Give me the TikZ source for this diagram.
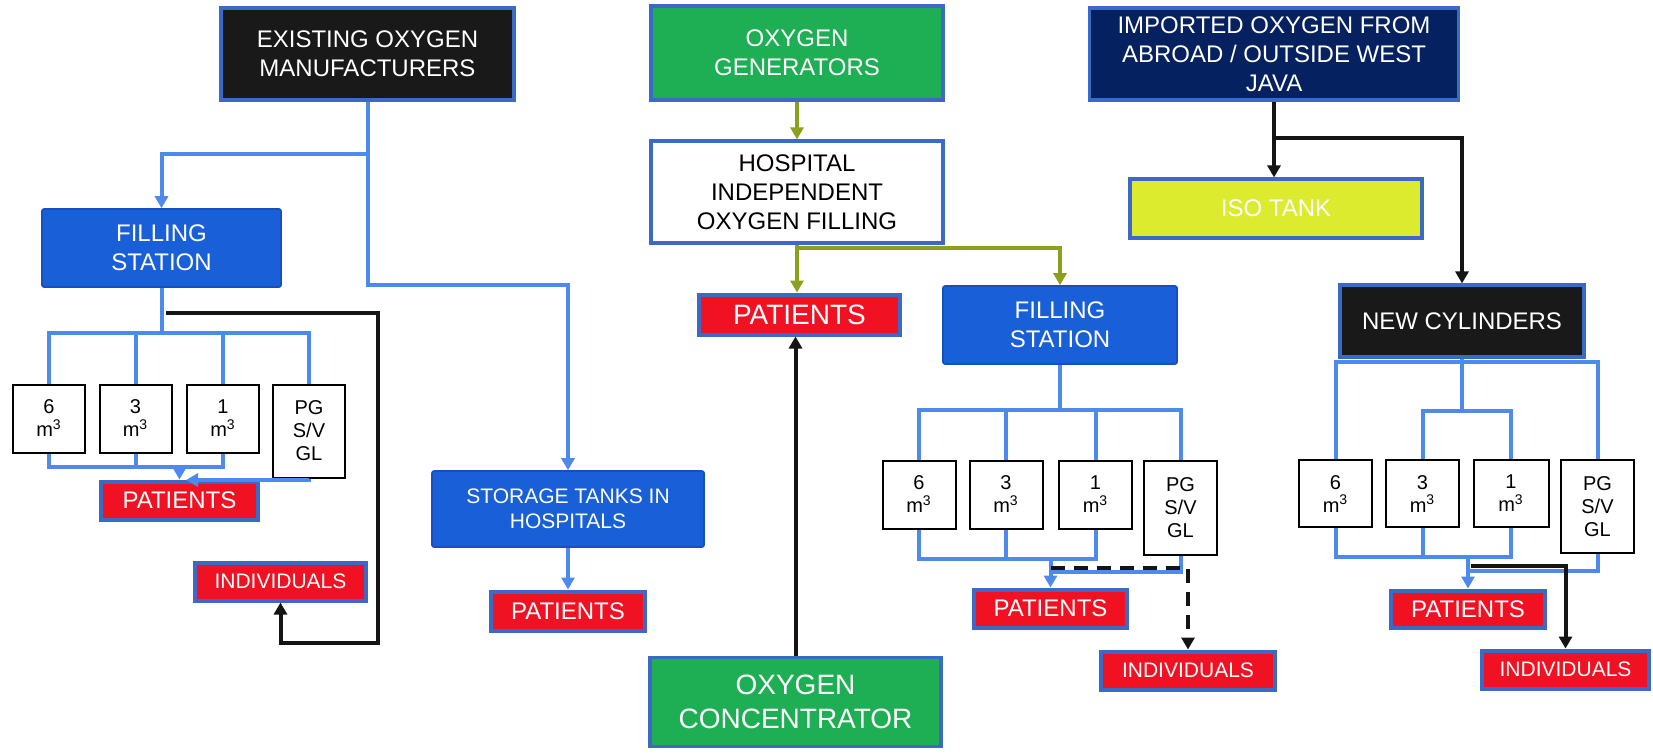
\documentclass[tikz,border=0pt]{standalone}
\usepackage{fontspec}
\setmainfont{Liberation Sans}
\usetikzlibrary{arrows.meta}
\definecolor{bord}{RGB}{60,105,195}
\definecolor{lineblue}{RGB}{78,138,238}
\definecolor{fsblue}{RGB}{25,95,215}
\definecolor{fsedge}{RGB}{20,80,190}
\definecolor{redfill}{RGB}{240,18,35}
\definecolor{greenfill}{RGB}{30,175,85}
\definecolor{navy}{RGB}{5,33,95}
\definecolor{boxblack}{RGB}{25,25,25}
\definecolor{isofill}{RGB}{220,235,45}
\definecolor{olive}{RGB}{140,160,30}
\definecolor{blkline}{RGB}{20,20,20}
\begin{document}
\begin{tikzpicture}[x=0.5pt,y=-0.5pt,
  sz/.style 2 args={minimum width={#1*0.5pt},minimum height={#2*0.5pt}},
  base/.style={inner sep=0pt, align=center, text=white, font=\fontsize{12}{14.5}\selectfont},
  blackbox/.style={base, fill=boxblack, draw=bord, line width=1.6pt},
  navybox/.style={base, fill=navy, draw=bord, line width=1.6pt},
  greenbox/.style={base, fill=greenfill, draw=bord, line width=1.6pt},
  whitebox/.style={base, fill=white, text=black, draw=bord, line width=1.6pt},
  isobox/.style={base, fill=isofill, draw=bord, line width=1.6pt},
  fsbox/.style={base, fill=fsblue, draw=fsedge, line width=0.8pt, rounded corners=1pt},
  redbox/.style={base, fill=redfill, draw=bord, line width=2pt},
  indbox/.style={redbox, font=\fontsize{10.5}{12.5}\selectfont},
  cyl/.style={base, fill=white, text=black, draw=black, line width=1pt, font=\fontsize{10}{11.5}\selectfont},
  conn/.style={draw=lineblue, line width=2pt},
  olv/.style={draw=olive, line width=2pt},
  blk/.style={draw=blkline, line width=2pt},
  dashline/.style={dash pattern=on 7pt off 4.5pt},
  arr/.style={-{Triangle[width=6.5pt,length=6pt]}}
]
\useasboundingbox (0,0) rectangle (1653,752);

% ---------- left group ----------
\node[blackbox, sz={293}{92}] (exist) at (367.5,54) {EXISTING OXYGEN\\MANUFACTURERS};
\node[fsbox, sz={239}{78}] (fsL) at (161.5,248) {FILLING\\STATION};
\node[cyl, sz={72}{68}] (c6L) at (49,418.5) {6\\m\textsuperscript{3}};
\node[cyl, sz={72}{68}] (c3L) at (135.5,418.5) {3\\m\textsuperscript{3}};
\node[cyl, sz={72}{68}] (c1L) at (223,418.5) {1\\m\textsuperscript{3}};
\node[cyl, sz={72}{93}] (pgL) at (309,431) {PG\\S/V\\GL};
\node[redbox, sz={157}{38}] (patL) at (179.5,500.5) {PATIENTS};
\node[indbox, sz={171}{38}] (indL) at (280.5,581.5) {INDIVIDUALS};
\node[fsbox, sz={272}{76}, font=\fontsize{10.5}{12.5}\selectfont] (storage) at (568,509) {STORAGE TANKS IN\\HOSPITALS};
\node[redbox, sz={154}{39}] (patS) at (568,611) {PATIENTS};

% ---------- middle group ----------
\node[greenbox, sz={292}{94}] (gen) at (797,53) {OXYGEN\\GENERATORS};
\node[whitebox, sz={292}{102}] (hosp) at (797,192) {HOSPITAL\\INDEPENDENT\\OXYGEN FILLING};
\node[redbox, sz={201}{40}, font=\fontsize{14}{16}\selectfont] (patM) at (799.5,314.5) {PATIENTS};
\node[greenbox, sz={291}{89}, font=\fontsize{14}{17}\selectfont] (conc) at (795.5,702) {OXYGEN\\CONCENTRATOR};
\node[fsbox, sz={234}{78}] (fsM) at (1060,325) {FILLING\\STATION};
\node[cyl, sz={73}{68}] (c6M) at (919,494.5) {6\\m\textsuperscript{3}};
\node[cyl, sz={73}{68}] (c3M) at (1006,494.5) {3\\m\textsuperscript{3}};
\node[cyl, sz={73}{68}] (c1M) at (1095.5,494.5) {1\\m\textsuperscript{3}};
\node[cyl, sz={73}{94}] (pgM) at (1180.5,507.5) {PG\\S/V\\GL};
\node[redbox, sz={153}{38}] (patM2) at (1050.5,608.5) {PATIENTS};
\node[indbox, sz={174}{38}] (indM) at (1188,670.5) {INDIVIDUALS};

% ---------- right group ----------
\node[navybox, sz={369}{92}] (imp) at (1274,54) {IMPORTED OXYGEN FROM\\ABROAD / OUTSIDE WEST\\JAVA};
\node[isobox, sz={292}{59}] (iso) at (1276,208.5) {ISO TANK};
\node[blackbox, sz={244}{72}] (newc) at (1462,321) {NEW CYLINDERS};
\node[cyl, sz={73}{67}] (c6R) at (1335.5,493.5) {6\\m\textsuperscript{3}};
\node[cyl, sz={73}{67}] (c3R) at (1422.5,493.5) {3\\m\textsuperscript{3}};
\node[cyl, sz={75}{67}] (c1R) at (1511,493.5) {1\\m\textsuperscript{3}};
\node[cyl, sz={73}{93}] (pgR) at (1597.5,506.5) {PG\\S/V\\GL};
\node[redbox, sz={154}{37}] (patR) at (1468,609) {PATIENTS};
\node[indbox, sz={167}{38}] (indR) at (1565.5,669.5) {INDIVIDUALS};

% ---------- left connectors ----------
\coordinate (eJ) at (367.5,154);
\coordinate (eK) at (367.5,285);
\draw[conn,arr] (exist.south) -- (eJ) -| (fsL.north);
\draw[conn,arr] (eJ) -- (eK) -| (storage.north);
\coordinate (lB) at (161.5,333);
\draw[conn] (fsL.south) -- (lB);
\draw[conn] (c6L.north) -- (c6L.north |- lB) -- (pgL.north |- lB) -- (pgL.north);
\draw[conn] (c3L.north) -- (c3L.north |- lB);
\draw[conn] (c1L.north) -- (c1L.north |- lB);
\coordinate (lC) at (179.5,467);
\draw[conn] (c6L.south) -- (c6L.south |- lC) -- (c1L.south |- lC) -- (c1L.south);
\draw[conn] (c3L.south) -- (c3L.south |- lC);
\draw[conn,arr] (lC) -- (patL.north);
\coordinate (lP) at (186,480);
\draw[conn,arr] (pgL.south) |- (lP);
\coordinate (lF) at (166,313);
\coordinate (lG) at (378,643);
\draw[blk,arr] (lF) -| (lG) -| (indL.south);
\draw[conn,arr] (storage.south) -- (patS.north);

% ---------- middle connectors ----------
\draw[olv,arr] (gen.south) -- (hosp.north);
\coordinate (mJ) at (797,248);
\draw[olv] (hosp.south) -- (mJ);
\draw[olv,arr] (mJ) -- (mJ |- patM.north);
\draw[olv,arr] (mJ) -| (fsM.north);
\draw[blk,arr] (conc.north) -- (conc.north |- patM.south);
\coordinate (mB) at (1060,410);
\draw[conn] (fsM.south) -- (mB);
\draw[conn] (c6M.north) -- (c6M.north |- mB) -- (pgM.north |- mB) -- (pgM.north);
\draw[conn] (c3M.north) -- (c3M.north |- mB);
\draw[conn] (c1M.north) -- (c1M.north |- mB);
\coordinate (mC) at (1050.5,559);
\draw[conn] (c6M.south) -- (c6M.south |- mC) -- (c1M.south |- mC) -- (c1M.south);
\draw[conn] (c3M.south) -- (c3M.south |- mC);
\draw[conn,arr] (mC) -- (patM2.north);
\coordinate (mD) at (1050.5,572);
\draw[conn] (pgM.south) |- (mD);
\coordinate (mE) at (1050.5,568);
\draw[blk,dashline,arr] (mE) -| (indM.north);

% ---------- right connectors ----------
\coordinate (rJ) at (1274,138);
\draw[blk] (imp.south) -- (rJ);
\draw[blk,arr] (rJ) -- (rJ |- iso.north);
\draw[blk,arr] (rJ) -| (newc.north);
\coordinate (rB) at (1462,362);
\coordinate (rB2) at (1462,411);
\draw[conn] (c6R.north) |- (rB) -| (pgR.north);
\draw[conn] (newc.south) -- (rB2);
\draw[conn] (c3R.north) |- (rB2) -| (c1R.north);
\coordinate (rC) at (1468,557);
\draw[conn] (c6R.south) -- (c6R.south |- rC) -- (c1R.south |- rC) -- (c1R.south);
\draw[conn] (c3R.south) -- (c3R.south |- rC);
\draw[conn,arr] (rC) -- (patR.north);
\coordinate (rD) at (1468,571);
\draw[conn] (pgR.south) |- (rD);
\coordinate (rE) at (1471,566);
\draw[blk,arr] (rE) -| (indR.north);
\end{tikzpicture}
\end{document}
